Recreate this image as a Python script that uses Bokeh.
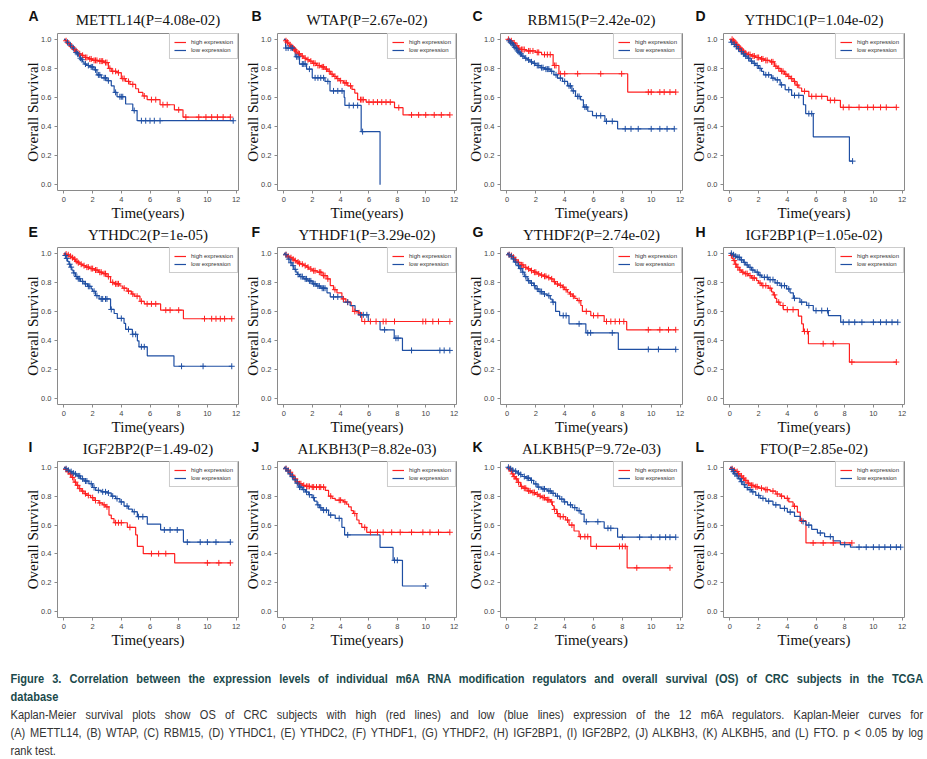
import numpy as np
from bokeh.plotting import figure
from bokeh.models import FixedTicker, PrintfTickFormatter, Div, Range1d, Title
from bokeh.layouts import column, row
from bokeh.embed import file_html
from bokeh.resources import INLINE

# ---------------- data ----------------
LETTERS = ["A", "B", "C", "D", "E", "F", "G", "H", "I", "J", "K", "L"]
TITLES = ["METTL14(P=4.08e-02)", "WTAP(P=2.67e-02)", "RBM15(P=2.42e-02)", "YTHDC1(P=1.04e-02)",
          "YTHDC2(P=1e-05)", "YTHDF1(P=3.29e-02)", "YTHDF2(P=2.74e-02)", "IGF2BP1(P=1.05e-02)",
          "IGF2BP2(P=1.49-02)", "ALKBH3(P=8.82e-03)", "ALKBH5(P=9.72e-03)", "FTO(P=2.85e-02)"]
LEGEND_LABELS = ["high expression", "low expression"]
X_TICKS = [0, 2, 4, 6, 8, 10, 12]
Y_TICKS = [0.0, 0.2, 0.4, 0.6, 0.8, 1.0]

# event times (T), survival after each event (S), censor times (C)
A_HI_T = [0.1,0.2,0.3,0.4,0.5,0.6,0.7,0.8,0.9,1.0,1.2,1.4,1.7,2.0,2.4,2.8,3.1,3.3,3.7,4.0,4.3,4.6,5.0,5.2,5.5,5.8,6.7,7.7,8.3]
A_HI_S = [0.99,0.98,0.97,0.96,0.95,0.94,0.93,0.92,0.91,0.90,0.89,0.875,0.865,0.855,0.85,0.84,0.80,0.78,0.77,0.73,0.71,0.69,0.66,0.635,0.61,0.585,0.55,0.515,0.465]
A_HI_C = [0.15,0.35,0.55,0.75,0.85,1.1,1.3,1.5,1.6,1.8,1.9,2.1,2.2,2.3,2.5,2.6,2.7,2.9,3.0,3.2,3.4,3.6,3.8,4.1,4.2,4.5,4.8,5.6,6.1,6.4,6.9,7.2,8.0,8.5,9.4,9.9,10.3,10.7,11.1,11.6]
A_LO_T = [0.1,0.2,0.3,0.4,0.5,0.6,0.7,0.8,0.9,1.0,1.1,1.2,1.3,1.4,1.6,1.8,2.1,2.3,2.6,3.0,3.3,3.5,3.7,4.3,4.8,5.1]
A_LO_S = [0.99,0.98,0.97,0.96,0.95,0.94,0.93,0.91,0.90,0.885,0.87,0.86,0.845,0.83,0.82,0.81,0.79,0.755,0.735,0.715,0.68,0.635,0.605,0.555,0.51,0.44]
A_LO_C = [0.25,0.45,0.65,0.85,0.95,1.15,1.25,1.5,1.7,1.9,2.0,2.2,2.4,2.5,2.8,2.9,3.1,3.6,3.9,4.0,4.1,4.9,5.4,5.7,6.0,6.3,6.7,11.8]

B_HI_T = [0.1,0.2,0.3,0.4,0.5,0.6,0.7,0.8,0.9,1.0,1.2,1.4,1.6,1.8,2.0,2.3,2.6,2.9,3.1,3.3,3.5,3.7,3.9,4.2,4.5,4.8,5.0,5.2,5.8,7.8,8.4]
B_HI_S = [0.99,0.98,0.97,0.96,0.95,0.94,0.93,0.92,0.91,0.90,0.885,0.87,0.86,0.85,0.835,0.82,0.81,0.795,0.78,0.76,0.745,0.73,0.715,0.70,0.68,0.655,0.63,0.585,0.568,0.53,0.48]
B_HI_C = [0.15,0.25,0.45,0.55,0.65,0.75,0.85,1.05,1.1,1.3,1.5,1.7,1.9,2.1,2.2,2.4,2.5,2.7,2.8,3.0,3.2,3.4,3.6,3.8,4.0,4.3,4.4,4.7,5.4,5.5,5.6,6.0,6.3,6.6,6.9,7.2,7.5,8.1,9.0,9.5,10.0,10.6,11.1,11.7]
B_LO_T = [0.12,0.8,1.1,1.6,2.0,2.9,3.25,4.25,4.3,5.45,6.78]
B_LO_S = [0.94,0.88,0.83,0.795,0.735,0.71,0.645,0.60,0.545,0.365,0.0]
B_LO_C = [0.15,0.3,0.5,0.6,0.9,1.0,1.3,1.4,1.5,1.8,2.2,2.4,2.6,2.8,3.1,3.5,3.8,4.1,4.6,4.9,5.2,5.55]

C_HI_T = [0.2,0.4,0.6,0.8,0.9,1.3,2.0,2.4,3.2,3.6,8.37]
C_HI_S = [0.99,0.975,0.955,0.94,0.93,0.92,0.91,0.895,0.82,0.763,0.637]
C_HI_C = [0.1,0.3,0.5,0.7,0.8,1.0,1.1,1.2,1.5,1.6,1.8,2.1,2.2,2.6,2.8,3.0,3.3,3.4,3.7,4.0,4.9,6.5,7.95,9.8,10.0,10.6,10.9,11.3,11.7]
C_LO_T = [0.1,0.2,0.3,0.4,0.5,0.6,0.7,0.8,0.9,1.0,1.2,1.4,1.6,1.8,2.0,2.3,2.6,3.0,3.25,3.5,3.85,4.2,4.5,4.75,5.1,5.3,5.6,5.93,6.79,7.67]
C_LO_S = [0.99,0.98,0.97,0.96,0.945,0.935,0.92,0.91,0.90,0.885,0.87,0.858,0.845,0.835,0.82,0.805,0.795,0.78,0.756,0.733,0.71,0.68,0.645,0.607,0.584,0.534,0.505,0.475,0.436,0.384]
C_LO_C = [0.15,0.25,0.35,0.45,0.55,0.65,0.75,0.85,0.95,1.1,1.3,1.5,1.7,1.9,2.1,2.2,2.4,2.5,2.7,2.8,2.9,3.1,3.4,3.7,4.0,4.3,4.4,4.6,4.9,5.0,5.4,5.5,6.2,6.5,6.9,7.3,8.2,8.6,9.1,10.0,10.6,11.1,11.6]

D_HI_T = [0.2,0.3,0.4,0.5,0.6,0.7,0.8,0.9,1.0,1.2,1.5,1.8,2.1,2.4,2.8,3.1,3.3,3.5,3.8,4.0,4.2,4.4,4.6,4.8,5.0,5.5,6.8,7.7]
D_HI_S = [0.99,0.98,0.965,0.955,0.945,0.935,0.925,0.915,0.905,0.895,0.885,0.875,0.865,0.855,0.845,0.815,0.80,0.78,0.76,0.745,0.73,0.71,0.685,0.665,0.642,0.607,0.58,0.532]
D_HI_C = [0.15,0.25,0.35,0.45,0.55,0.65,0.75,0.85,0.95,1.1,1.3,1.4,1.6,1.7,1.9,2.0,2.2,2.3,2.5,2.6,2.9,3.0,3.2,3.4,3.6,3.7,3.9,4.1,4.3,4.5,4.7,5.2,5.7,6.0,6.4,7.0,7.3,7.9,8.3,9.0,9.6,10.0,10.5,10.9,11.6]
D_LO_T = [0.05,0.2,0.35,0.5,0.7,0.85,1.0,1.2,1.4,1.6,1.8,2.0,2.2,2.35,2.9,3.15,3.5,3.85,4.3,5.12,5.28,5.81,8.33]
D_LO_S = [0.98,0.965,0.95,0.935,0.915,0.9,0.885,0.87,0.85,0.835,0.82,0.80,0.78,0.756,0.733,0.721,0.687,0.653,0.614,0.55,0.489,0.329,0.162]
D_LO_C = [0.1,0.3,0.45,0.6,0.8,0.95,1.1,1.3,1.5,1.7,1.9,2.1,2.5,2.7,3.0,3.3,3.6,4.1,4.5,4.8,5.5,5.7,8.55]

E_HI_T = [0.1,0.2,0.35,0.5,0.65,0.8,0.95,1.1,1.3,1.5,1.8,2.1,2.4,2.7,3.0,3.25,3.5,3.9,4.1,4.4,4.7,4.9,5.3,5.6,6.74,8.33]
E_HI_S = [0.995,0.99,0.98,0.97,0.96,0.945,0.935,0.925,0.915,0.905,0.895,0.885,0.87,0.86,0.84,0.80,0.79,0.775,0.76,0.74,0.72,0.705,0.67,0.652,0.609,0.55]
E_HI_C = [0.15,0.3,0.45,0.6,0.75,0.9,1.0,1.2,1.4,1.6,1.7,1.9,2.0,2.2,2.3,2.5,2.6,2.8,2.9,3.1,3.4,3.6,3.7,3.8,4.2,4.5,4.8,5.1,5.4,5.8,6.1,6.4,7.1,7.4,8.0,9.8,10.3,10.6,10.9,11.2,11.7]
E_LO_T = [0.05,0.15,0.25,0.35,0.45,0.55,0.65,0.8,0.95,1.15,1.4,1.65,1.9,2.0,2.2,2.45,3.25,3.5,3.72,4.19,4.3,4.77,5.12,5.23,5.81,7.67]
E_LO_S = [0.985,0.965,0.945,0.925,0.905,0.885,0.865,0.84,0.825,0.807,0.79,0.773,0.755,0.739,0.709,0.686,0.614,0.586,0.552,0.518,0.477,0.443,0.398,0.357,0.295,0.223]
E_LO_C = [0.1,0.2,0.4,0.5,0.7,0.9,1.0,1.1,1.3,1.5,1.7,1.8,2.1,2.3,2.6,2.7,2.9,3.0,3.3,4.0,4.5,4.8,5.0,5.4,5.6,8.2,9.7,11.7]

F_HI_T = [0.1,0.25,0.4,0.58,0.75,0.9,1.05,1.2,1.4,1.6,1.75,2.0,2.34,2.69,3.04,3.27,3.5,3.74,4.09,4.37,4.74,4.86,5.26,5.49]
F_HI_S = [0.99,0.98,0.97,0.96,0.95,0.94,0.93,0.925,0.915,0.905,0.892,0.88,0.87,0.847,0.824,0.778,0.75,0.728,0.686,0.664,0.64,0.60,0.59,0.531]
F_HI_C = [0.15,0.3,0.5,0.65,0.8,1.0,1.1,1.3,1.5,1.7,1.9,2.1,2.2,2.5,2.6,2.8,2.9,3.1,3.6,4.2,4.5,5.0,5.3,5.7,6.1,6.5,7.0,7.2,7.8,9.8,10.0,10.5,10.9,11.7]
F_LO_T = [0.1,0.2,0.3,0.45,0.58,0.7,0.85,0.95,1.1,1.4,1.7,2.0,2.3,2.6,3.04,3.27,4.2,4.67,5.02,5.26,5.95,6.78,7.78,8.36]
F_LO_S = [0.99,0.975,0.96,0.935,0.915,0.89,0.87,0.855,0.84,0.824,0.81,0.79,0.775,0.76,0.728,0.70,0.664,0.64,0.606,0.577,0.531,0.474,0.416,0.332]
F_LO_C = [0.15,0.35,0.5,0.65,0.8,1.0,1.2,1.3,1.5,1.6,1.8,1.9,2.1,2.2,2.4,2.5,2.7,2.8,2.9,3.5,3.8,4.5,5.4,5.6,5.85,7.1,7.9,8.05,9.0,11.0,11.3,11.7]

G_HI_T = [0.1,0.2,0.35,0.5,0.7,0.9,1.16,1.4,1.63,1.85,2.09,2.3,2.56,2.8,3.02,3.2,3.37,3.6,3.84,4.0,4.19,4.35,4.53,4.7,4.88,5.12,5.23,5.81,6.74,8.3]
G_HI_S = [0.99,0.985,0.973,0.955,0.938,0.92,0.904,0.893,0.881,0.87,0.858,0.85,0.842,0.833,0.824,0.805,0.789,0.78,0.767,0.75,0.732,0.72,0.705,0.69,0.675,0.641,0.60,0.572,0.531,0.474]
G_HI_C = [0.15,0.3,0.45,0.6,0.8,1.0,1.1,1.3,1.5,1.7,1.9,2.0,2.2,2.4,2.6,2.7,2.9,3.1,3.3,3.5,3.7,3.9,4.1,4.4,4.6,5.0,5.5,6.0,6.3,6.9,7.2,7.5,7.8,8.1,9.8,10.6,11.2,11.7]
G_LO_T = [0.1,0.2,0.35,0.5,0.7,0.85,1.05,1.2,1.4,1.6,1.86,2.0,2.21,2.5,2.79,3.0,3.14,3.37,3.65,4.3,5.47,7.72]
G_LO_S = [0.99,0.98,0.961,0.94,0.915,0.895,0.87,0.84,0.812,0.795,0.778,0.755,0.737,0.72,0.709,0.685,0.664,0.60,0.572,0.515,0.453,0.339]
G_LO_C = [0.15,0.3,0.45,0.6,0.8,0.95,1.1,1.3,1.5,1.7,1.9,2.1,2.3,2.4,2.6,2.9,3.2,3.9,4.1,5.0,5.6,5.8,7.3,9.8,10.5,11.7]

H_HI_T = [0.05,0.15,0.23,0.35,0.47,0.65,0.81,1.0,1.28,1.5,1.86,2.0,2.21,2.67,2.9,3.02,3.15,3.26,3.49,3.72,4.77,5.0,5.12,5.47,8.33]
H_HI_S = [0.985,0.965,0.95,0.925,0.904,0.885,0.87,0.86,0.847,0.83,0.812,0.795,0.778,0.76,0.735,0.714,0.69,0.664,0.641,0.613,0.568,0.515,0.462,0.378,0.252]
H_HI_C = [0.1,0.3,0.4,0.55,0.7,0.9,1.1,1.2,1.4,1.6,1.7,2.1,2.3,2.5,2.8,3.1,3.4,3.7,4.0,4.4,5.2,5.4,6.5,7.2,8.5,11.6]
H_LO_T = [0.15,0.3,0.47,0.7,0.93,1.1,1.28,1.5,1.74,2.0,2.21,2.67,3.14,3.49,3.95,4.19,4.42,4.88,5.35,5.81,6.86,7.72]
H_LO_S = [0.99,0.98,0.973,0.955,0.938,0.92,0.904,0.885,0.87,0.85,0.835,0.819,0.796,0.778,0.755,0.728,0.691,0.664,0.641,0.606,0.572,0.526]
H_LO_C = [0.1,0.25,0.4,0.55,0.65,0.8,1.0,1.2,1.4,1.6,1.9,2.1,2.4,2.6,2.8,3.0,3.3,3.6,3.8,4.1,4.5,5.0,5.5,6.0,6.4,6.8,7.9,8.3,8.7,9.2,10.0,10.5,10.9,11.3,11.7]

I_HI_T = [0.1,0.2,0.35,0.5,0.7,0.85,1.05,1.2,1.4,1.6,1.86,2.1,2.44,2.7,2.91,3.14,3.3,3.49,4.42,5.0,5.12,5.53,7.72]
I_HI_S = [0.985,0.97,0.954,0.93,0.897,0.875,0.852,0.835,0.817,0.805,0.79,0.77,0.753,0.74,0.726,0.669,0.645,0.616,0.584,0.532,0.452,0.402,0.338]
I_HI_C = [0.15,0.3,0.45,0.6,0.8,0.95,1.1,1.3,1.5,1.7,2.0,2.2,2.5,2.8,3.0,3.6,3.8,4.0,4.6,6.1,6.6,7.1,10.0,10.8,11.6]
I_LO_T = [0.1,0.25,0.4,0.55,0.7,0.9,1.16,1.4,1.74,2.0,2.21,2.6,3.02,3.3,3.6,3.9,4.19,4.5,4.77,5.12,5.81,6.74,8.33]
I_LO_S = [0.99,0.98,0.97,0.96,0.954,0.94,0.92,0.905,0.886,0.86,0.84,0.83,0.822,0.80,0.783,0.76,0.731,0.71,0.692,0.658,0.607,0.566,0.482]
I_LO_C = [0.15,0.3,0.5,0.65,0.8,1.0,1.1,1.3,1.5,1.6,1.9,2.1,2.4,2.7,2.9,3.1,3.4,3.7,4.0,4.4,4.9,5.2,5.5,7.0,7.4,7.9,8.6,9.5,10.0,10.6,11.6]

J_HI_T = [0.1,0.2,0.35,0.5,0.7,0.85,1.05,1.3,1.52,1.99,2.92,3.15,3.4,3.62,4.2,4.4,4.56,4.75,4.9,5.14,5.3,5.49,5.84]
J_HI_S = [0.99,0.98,0.966,0.945,0.92,0.90,0.886,0.875,0.868,0.863,0.84,0.80,0.785,0.772,0.76,0.745,0.726,0.70,0.68,0.635,0.61,0.584,0.55]
J_HI_C = [0.15,0.3,0.45,0.6,0.8,0.95,1.1,1.2,1.4,1.6,1.7,1.8,2.0,2.1,2.3,2.5,2.6,2.8,3.3,3.9,4.0,4.3,5.0,5.7,6.1,6.6,7.0,7.6,8.2,9.0,9.8,10.3,10.9,11.7]
J_LO_T = [0.1,0.2,0.35,0.5,0.7,0.85,1.05,1.3,1.52,1.75,1.99,2.15,2.34,2.5,2.69,3.15,3.62,4.09,4.28,6.78,7.7,8.36]
J_LO_S = [0.99,0.975,0.954,0.935,0.913,0.89,0.863,0.845,0.829,0.81,0.79,0.765,0.74,0.72,0.703,0.669,0.646,0.584,0.532,0.445,0.356,0.178]
J_LO_C = [0.15,0.3,0.45,0.6,0.8,0.95,1.1,1.2,1.4,1.6,1.8,2.1,2.4,2.6,2.8,3.0,3.3,3.9,4.5,7.8,8.0,10.0]

K_HI_T = [0.1,0.2,0.35,0.45,0.58,0.75,0.93,1.1,1.4,1.7,1.98,2.2,2.44,2.7,3.02,3.15,3.26,3.45,3.6,4.07,4.3,4.65,5.0,5.81,8.33]
K_HI_S = [0.99,0.975,0.954,0.935,0.92,0.895,0.868,0.855,0.836,0.825,0.813,0.80,0.79,0.775,0.76,0.735,0.708,0.68,0.658,0.635,0.60,0.559,0.52,0.452,0.304]
K_HI_C = [0.15,0.3,0.4,0.5,0.65,0.8,1.0,1.2,1.3,1.5,1.6,1.8,1.9,2.1,2.3,2.5,2.6,2.8,2.9,3.1,3.3,3.5,3.7,3.9,4.2,4.5,5.1,5.4,5.6,6.2,7.8,8.0,8.2,9.0,11.3]
K_LO_T = [0.15,0.3,0.47,0.7,0.85,1.05,1.3,1.63,1.85,2.09,2.4,2.79,3.1,3.37,3.65,3.95,4.2,4.53,4.85,5.12,5.35,6.74,7.67]
K_LO_S = [0.99,0.98,0.973,0.96,0.95,0.936,0.925,0.909,0.885,0.863,0.85,0.836,0.82,0.80,0.78,0.76,0.74,0.721,0.70,0.676,0.623,0.578,0.516]
K_LO_C = [0.1,0.25,0.4,0.6,0.8,0.95,1.2,1.4,1.5,1.7,2.0,2.2,2.5,2.6,2.9,3.0,3.2,3.5,3.8,4.0,4.4,4.7,5.0,5.5,6.3,7.0,7.2,8.0,9.2,10.0,10.6,11.0,11.3,11.7]

L_HI_T = [0.1,0.25,0.4,0.55,0.7,0.85,1.0,1.2,1.4,1.7,2.0,2.4,2.8,3.2,3.5,3.8,4.1,4.4,4.7,4.9,5.3]
L_HI_S = [0.99,0.98,0.97,0.955,0.94,0.925,0.91,0.89,0.875,0.865,0.855,0.845,0.835,0.815,0.80,0.785,0.76,0.73,0.69,0.63,0.476]
L_HI_C = [0.15,0.3,0.5,0.6,0.8,0.95,1.1,1.3,1.5,1.6,1.8,1.9,2.2,2.5,2.6,3.0,3.3,3.6,4.0,4.5,5.0,5.8,6.5,7.2,8.5]
L_LO_T = [0.1,0.2,0.3,0.45,0.6,0.75,0.9,1.05,1.25,1.5,1.8,2.1,2.5,3.0,3.5,4.0,4.5,4.9,5.3,5.7,6.1,6.6,7.2,7.7,8.4]
L_LO_S = [0.985,0.97,0.955,0.94,0.92,0.90,0.88,0.86,0.845,0.83,0.805,0.785,0.765,0.74,0.715,0.69,0.66,0.625,0.60,0.57,0.545,0.52,0.49,0.465,0.447]
L_LO_C = [0.15,0.25,0.35,0.5,0.7,0.8,1.0,1.2,1.4,1.6,2.0,2.3,2.7,3.2,3.8,4.2,5.1,5.5,6.3,7.0,8.0,9.0,9.5,10.0,10.4,10.8,11.2,11.6,11.9]

CURVES = [
    (A_HI_T, A_HI_S, A_HI_C, A_LO_T, A_LO_S, A_LO_C),
    (B_HI_T, B_HI_S, B_HI_C, B_LO_T, B_LO_S, B_LO_C),
    (C_HI_T, C_HI_S, C_HI_C, C_LO_T, C_LO_S, C_LO_C),
    (D_HI_T, D_HI_S, D_HI_C, D_LO_T, D_LO_S, D_LO_C),
    (E_HI_T, E_HI_S, E_HI_C, E_LO_T, E_LO_S, E_LO_C),
    (F_HI_T, F_HI_S, F_HI_C, F_LO_T, F_LO_S, F_LO_C),
    (G_HI_T, G_HI_S, G_HI_C, G_LO_T, G_LO_S, G_LO_C),
    (H_HI_T, H_HI_S, H_HI_C, H_LO_T, H_LO_S, H_LO_C),
    (I_HI_T, I_HI_S, I_HI_C, I_LO_T, I_LO_S, I_LO_C),
    (J_HI_T, J_HI_S, J_HI_C, J_LO_T, J_LO_S, J_LO_C),
    (K_HI_T, K_HI_S, K_HI_C, K_LO_T, K_LO_S, K_LO_C),
    (L_HI_T, L_HI_S, L_HI_C, L_LO_T, L_LO_S, L_LO_C),
]

CAPTION_BOLD = ("Figure 3. Correlation between the expression levels of individual m6A RNA modification "
                "regulators and overall survival (OS) of CRC subjects in the TCGA")
CAPTION_BOLD2 = "database"
CAPTION_L3 = ("Kaplan-Meier survival plots show OS of CRC subjects with high (red lines) and low (blue lines) "
              "expression of the 12 m6A regulators. Kaplan-Meier curves for")
CAPTION_L4 = ("(A) METTL14, (B) WTAP, (C) RBM15, (D) YTHDC1, (E) YTHDC2, (F) YTHDF1, (G) YTHDF2, (H) IGF2BP1, "
              "(I) IGF2BP2, (J) ALKBH3, (K) ALKBH5, and (L) FTO. p &lt; 0.05 by log")
CAPTION_L5 = "rank test."

# ---------------- style / layout ----------------
RED = "#ff2020"
BLUE = "#1f4fa3"
FRAME = "#8a8a8a"
SERIF = "Liberation Serif"
SANS = "Liberation Sans"

# (total width, min_border_left, min_border_right)
COLS = [(241, 57, 3), (220, 36, 5), (225, 39, 4), (233, 37, 15)]
# (total height, min_border_top, min_border_bottom)
ROWS = [(223, 33, 32), (214, 24, 33), (213, 24, 32)]
LETTER_OFFSET = [-29, -26, -28, -28]
GENE_STANDOFF = [8, 5, 5]
LETTER_STANDOFF = [-32.8, -30.8, -33.0]


def km_xy(t, s, c):
    n = min(len(t), len(s))
    t, s = list(t[:n]), list(s[:n])
    end = max(t[-1], max(c) if len(c) else 0.0)
    return [0.0] + t + [end], [1.0] + s + [s[-1]]


def surv_at(t, s, c):
    n = min(len(t), len(s))
    ta = np.array(t[:n]); sa = np.array(s[:n])
    idx = np.searchsorted(ta, np.array(c), side="right") - 1
    return np.where(idx >= 0, sa[np.clip(idx, 0, None)], 1.0)


def make_panel(k):
    r, cidx = divmod(k, 4)
    w, bl, br = COLS[cidx]
    h, bt, bb = ROWS[r]
    p = figure(width=w, height=h, x_range=Range1d(-0.45, 12.17), y_range=Range1d(-0.04, 1.04),
               output_backend="svg", toolbar_location=None,
               min_border_left=bl, min_border_right=br, min_border_top=bt, min_border_bottom=bb,
               title=LETTERS[k])
    p.background_fill_color = "white"
    p.border_fill_color = "white"
    p.outline_line_color = FRAME
    p.outline_line_width = 1
    p.grid.visible = False

    # panel letter (outermost title)
    p.title.align = "left"
    p.title.offset = LETTER_OFFSET[cidx]
    p.title.vertical_align = "bottom"
    p.title.standoff = LETTER_STANDOFF[r]
    p.title.text_font = SANS
    p.title.text_font_size = "14px"
    p.title.text_font_style = "bold"
    p.title.text_color = "#111111"

    # gene title (nearest the frame)
    gene = Title(text=TITLES[k], align="center", vertical_align="top", standoff=GENE_STANDOFF[r],
                 text_font=SERIF, text_font_size="15px", text_font_style="normal", text_color="#111111")
    p.add_layout(gene, "above")

    for ax in (p.xaxis[0], p.yaxis[0]):
        ax.axis_line_color = None
        ax.major_tick_line_color = FRAME
        ax.major_tick_out = 3
        ax.major_tick_in = 0
        ax.minor_tick_line_color = None
        ax.major_label_text_font = SANS
        ax.major_label_text_font_size = "7.5px"
        ax.major_label_text_color = "#444444"
        ax.major_label_standoff = 3
        ax.axis_label_text_font = SERIF
        ax.axis_label_text_font_size = "15px"
        ax.axis_label_text_font_style = "normal"
        ax.axis_label_text_color = "#111111"
    p.xaxis[0].ticker = FixedTicker(ticks=X_TICKS)
    p.yaxis[0].ticker = FixedTicker(ticks=Y_TICKS)
    p.yaxis[0].formatter = PrintfTickFormatter(format="%.1f")
    p.xaxis[0].axis_label = "Time(years)"
    p.yaxis[0].axis_label = "Overall Survival"
    p.xaxis[0].axis_label_standoff = 0
    p.yaxis[0].axis_label_standoff = -3

    ht, hs, hc, lt, ls, lc = CURVES[k]
    for (t, s, c, col, lab) in ((ht, hs, hc, RED, LEGEND_LABELS[0]), (lt, ls, lc, BLUE, LEGEND_LABELS[1])):
        x, y = km_xy(t, s, c)
        p.step(x=x, y=y, mode="after", line_color=col, line_width=1.2, legend_label=lab)
    for (t, s, c, col) in ((ht, hs, hc, RED), (lt, ls, lc, BLUE)):
        p.scatter(x=list(c), y=surv_at(t, s, c), marker="cross", size=6, line_color=col, line_width=1)

    lg = p.legend[0]
    lg.location = "top_right"
    lg.margin = 0
    lg.padding = 4
    lg.spacing = 0
    lg.glyph_width = 12
    lg.glyph_height = 8
    lg.label_height = 8
    lg.label_standoff = 5
    lg.label_text_font = SANS
    lg.label_text_font_size = "6px"
    lg.label_text_color = "#333333"
    lg.border_line_color = "#999999"
    lg.border_line_width = 1
    lg.background_fill_alpha = 1.0
    return p


panels = [make_panel(k) for k in range(12)]
grid_rows = [row(*panels[i * 4:(i + 1) * 4]) for i in range(3)]

just = "text-align:justify;text-align-last:justify;"
html = (
    '<div style="width:998px;transform:scaleX(0.92);transform-origin:0 0;'
    "font-family:'Liberation Sans',Arial,sans-serif;font-size:12px;line-height:18px;"
    'padding-top:15px;padding-left:6px;color:#333333;">'
    f'<div style="font-weight:bold;color:#1b4a4c;{just}">{CAPTION_BOLD}</div>'
    f'<div style="font-weight:bold;color:#1b4a4c;">{CAPTION_BOLD2}</div>'
    f'<div style="{just}">{CAPTION_L3}</div>'
    f'<div style="{just}">{CAPTION_L4}</div>'
    f'<div>{CAPTION_L5}</div>'
    '</div>'
)
caption = Div(text=html, width=925, height=108, styles={"overflow": "hidden"})

layout = column(*grid_rows, caption)
open("out.html", "w").write(file_html(layout, INLINE))
